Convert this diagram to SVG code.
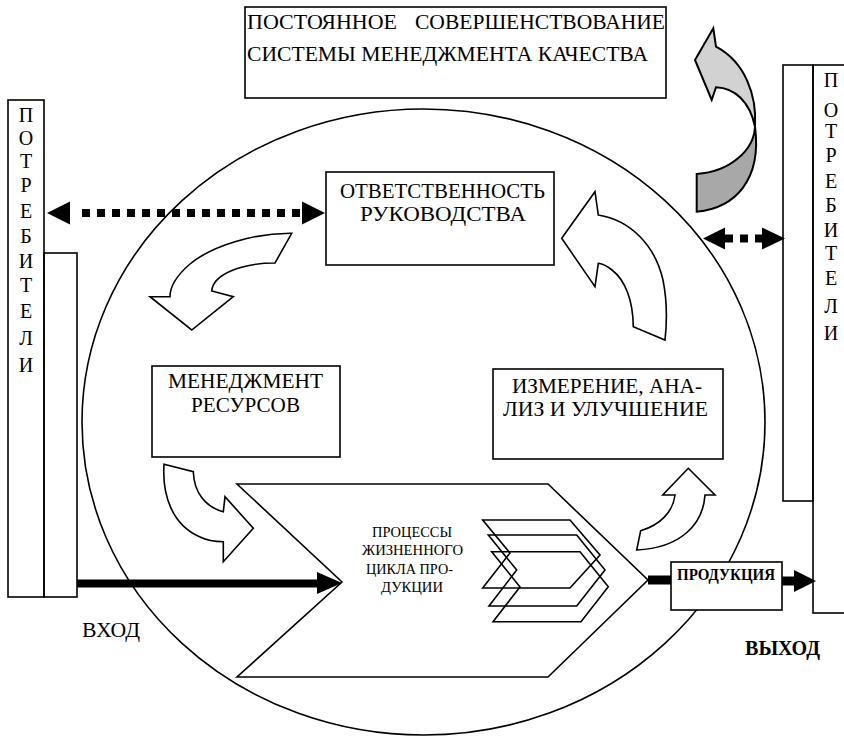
<svg xmlns="http://www.w3.org/2000/svg" width="844" height="736" viewBox="0 0 844 736">
<style>
.ln{fill:none;stroke:#000;stroke-width:1.6}
.box{fill:#fff;stroke:#000;stroke-width:1.6}
.arr{fill:#fff;stroke:#000;stroke-width:1.6;stroke-linejoin:miter}
.t{fill:#000;font-family:'Liberation Serif','Times New Roman',serif}
.m{font-size:22px}
.mid{text-anchor:middle}
.head{fill:#000;stroke:none}
.dot{fill:none;stroke:#000;stroke-width:8;stroke-dasharray:8 7}
.bar{fill:none;stroke:#000}
</style>
<rect width="844" height="736" fill="#fff"/>

<g id="cycle">
<ellipse class="ln" cx="423.5" cy="422" rx="341.5" ry="313"/>
</g>

<g id="customers-left">
<rect class="ln" x="8" y="100" width="36" height="497"/>
<rect class="ln" x="44" y="253" width="33" height="344"/>
<text class="t mid" font-size="20" x="26"><tspan x="26" y="122">П</tspan><tspan x="26" y="145">О</tspan><tspan x="26" y="168">Т</tspan><tspan x="26" y="192">Р</tspan><tspan x="26" y="218">Е</tspan><tspan x="26" y="243">Б</tspan><tspan x="26" y="268">И</tspan><tspan x="26" y="292">Т</tspan><tspan x="26" y="318">Е</tspan><tspan x="26" y="345">Л</tspan><tspan x="26" y="372">И</tspan></text>
</g>

<g id="customers-right">
<rect class="ln" x="813" y="65" width="50" height="548"/>
<rect class="ln" x="783" y="65" width="30" height="436"/>
<text class="t mid" font-size="20" x="831"><tspan x="831" y="87">П</tspan><tspan x="831" y="117">О</tspan><tspan x="831" y="138">Т</tspan><tspan x="831" y="162">Р</tspan><tspan x="831" y="188">Е</tspan><tspan x="831" y="212">Б</tspan><tspan x="831" y="237">И</tspan><tspan x="831" y="260">Т</tspan><tspan x="831" y="285">Е</tspan><tspan x="831" y="313">Л</tspan><tspan x="831" y="340">И</tspan></text>
</g>

<g id="improvement">
<rect class="box" x="245" y="7" width="421" height="91"/>
<text class="t m" y="29"><tspan x="247" textLength="150" lengthAdjust="spacingAndGlyphs">ПОСТОЯННОЕ</tspan><tspan x="415" textLength="250" lengthAdjust="spacingAndGlyphs">СОВЕРШЕНСТВОВАНИЕ</tspan></text>
<text class="t m" x="247" y="61" textLength="401" lengthAdjust="spacingAndGlyphs">СИСТЕМЫ МЕНЕДЖМЕНТА КАЧЕСТВА</text>
</g>

<g id="improvement-arrow">
<path d="M713.3,28.3 L695,60 L711.7,100 L716,87.3 C735,88 750,102 755,126.7 C757,95 745,62 716,46.7 Z" fill="#d2d2d2" stroke="#000" stroke-width="2"/>
<path d="M755,126.7 C754,150 730,172 696.7,174 L696.7,211.7 C735,208 762,180 755,126.7 Z" fill="#a8a8a8" stroke="#000" stroke-width="2"/>
</g>

<g id="responsibility">
<rect class="box" x="326" y="172" width="228" height="93"/>
<text class="t m" x="340" y="198" textLength="205" lengthAdjust="spacingAndGlyphs">ОТВЕТСТВЕННОСТЬ</text>
<text class="t m" x="360" y="221" textLength="166" lengthAdjust="spacingAndGlyphs">РУКОВОДСТВА</text>
</g>

<g id="resources">
<rect class="box" x="152" y="366" width="188" height="91"/>
<text class="t m" x="168" y="388" textLength="155" lengthAdjust="spacingAndGlyphs">МЕНЕДЖМЕНТ</text>
<text class="t m" x="191" y="412" textLength="109" lengthAdjust="spacingAndGlyphs">РЕСУРСОВ</text>
</g>

<g id="measurement">
<rect class="box" x="493" y="369" width="230" height="90"/>
<text class="t m" x="512" y="393" textLength="190" lengthAdjust="spacingAndGlyphs">ИЗМЕРЕНИЕ, АНА-</text>
<text class="t m" x="503" y="416" textLength="205" lengthAdjust="spacingAndGlyphs">ЛИЗ И УЛУЧШЕНИЕ</text>
</g>

<g id="processes">
<polygon class="box" points="237,484 548,484 648,580 548,677 237,677 342,582"/>
<polygon class="ln" points="482.7,520 570,520 600,555 570,588 482.7,588 510,553"/>
<polygon class="ln" points="488.3,535 576.7,535 605,570 576.7,606 489,606 516.7,570"/>
<polygon class="ln" points="491.7,551.7 580,551.7 608.3,586.7 581,621.7 493,621.7 520,587"/>
<g class="t" font-size="14.5">
<text x="372" y="537" textLength="80" lengthAdjust="spacingAndGlyphs">ПРОЦЕССЫ</text>
<text x="362" y="555" textLength="101" lengthAdjust="spacingAndGlyphs">ЖИЗНЕННОГО</text>
<text x="366" y="574" textLength="87" lengthAdjust="spacingAndGlyphs">ЦИКЛА ПРО-</text>
<text x="381" y="592" textLength="62" lengthAdjust="spacingAndGlyphs">ДУКЦИИ</text>
</g>
</g>

<g id="product">
<rect class="box" x="671" y="562" width="111" height="48"/>
<text class="t" font-size="16" font-weight="bold" x="677" y="580" textLength="98" lengthAdjust="spacingAndGlyphs">ПРОДУКЦИЯ</text>
</g>

<g id="labels">
<text class="t" font-size="21" x="82" y="637" textLength="58" lengthAdjust="spacingAndGlyphs">ВХОД</text>
<text class="t" font-size="20" font-weight="bold" x="745" y="655" textLength="75" lengthAdjust="spacingAndGlyphs">ВЫХОД</text>
</g>

<g id="cycle-arrows">
<path class="arr" d="M291.7,233.3 C255,233 213,245 190,264 C176,276 170,288 170,296.7 L150,296.7 L191.7,330 L233.3,296.7 L211.7,291 C213,275 240,263 275,263 Z"/>
<path class="arr" d="M164,464.3 C162,495 172,525 200,537 C208,541 215,541.7 223.3,541.7 L223.3,561.7 L253.3,528.3 L225,496.7 L223.3,511.7 C205,507 194,492 193.3,471.7 Z"/>
<path class="arr" d="M688.3,468.3 L715,495 L705,495 C703,525 680,548 636.7,550 L640.7,530.7 C660,525 673,512 675,495 L662.7,495 Z"/>
<path class="arr" d="M561.7,238.3 L595,191.7 L598.3,215 C630,220 655,245 663,280 C667,300 667,322 665,340 L633.3,326.7 C633,300 625,280 612,270 C607,266 603,264 598.3,263.3 L595,286.7 Z"/>
</g>

<g id="connectors">
<line class="dot" x1="82" y1="213" x2="300" y2="213"/>
<polygon class="head" points="47,213 70,201.5 70,224.5"/>
<polygon class="head" points="325,213 302,201.5 302,224.5"/>
<line class="dot" x1="725" y1="238.5" x2="762" y2="238.5" stroke-dasharray="4 8 8 8 9"/>
<polygon class="head" points="703,238.5 725,227.5 725,249.5"/>
<polygon class="head" points="785,238.5 762,227.5 762,249.5"/>
<line class="bar" x1="77" y1="583.5" x2="319" y2="583.5" stroke-width="8"/>
<polygon class="head" points="317,572 342,583 317,594"/>
<line class="bar" x1="648" y1="580" x2="671" y2="580" stroke-width="9"/>
<line class="bar" x1="782" y1="581" x2="796" y2="581" stroke-width="9"/>
<polygon class="head" points="794,570 816,581 794,592"/>
</g>
</svg>
